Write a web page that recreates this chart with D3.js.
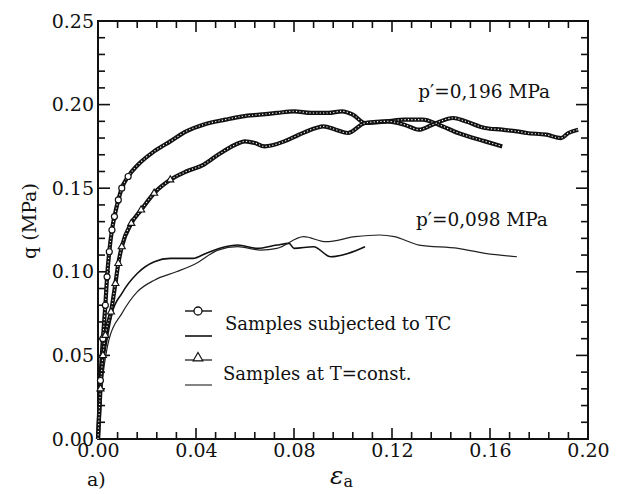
<!DOCTYPE html>
<html><head><meta charset="utf-8">
<script src="https://cdn.jsdelivr.net/npm/d3@7"></script>
<style>body{margin:0;background:#fff}svg{display:block}</style>
</head><body><svg id="c" width="628" height="494"></svg>
<script>
// ---- data (ε_a, q [MPa]) ----
const tc196 = [[0,0],[0.001,0.035],[0.002,0.06],[0.003,0.08],[0.0037,0.097],[0.0046,0.112],[0.0057,0.125],[0.0067,0.133],[0.0083,0.143],[0.0097,0.150],[0.0123,0.157],[0.0163,0.164],[0.0229,0.172],[0.0295,0.178],[0.036,0.184],[0.043,0.188],[0.052,0.191],[0.059,0.193],[0.066,0.194],[0.073,0.195],[0.080,0.196],[0.087,0.195],[0.094,0.195],[0.0996,0.196],[0.104,0.194],[0.109,0.189],[0.118,0.190],[0.125,0.191],[0.1325,0.191],[0.139,0.188],[0.147,0.183],[0.158,0.178],[0.165,0.175]];
const const196 = [[0,0],[0.001,0.03],[0.002,0.05],[0.003,0.062],[0.0053,0.076],[0.0071,0.093],[0.0083,0.105],[0.0097,0.115],[0.0136,0.129],[0.0176,0.137],[0.0229,0.147],[0.0295,0.155],[0.036,0.160],[0.043,0.164],[0.049,0.170],[0.056,0.176],[0.060,0.178],[0.064,0.177],[0.068,0.175],[0.076,0.178],[0.082,0.182],[0.089,0.186],[0.092,0.187],[0.097,0.185],[0.102,0.183],[0.109,0.189],[0.118,0.190],[0.125,0.188],[0.131,0.185],[0.1365,0.188],[0.145,0.192],[0.150,0.190],[0.158,0.186],[0.165,0.185],[0.171,0.184],[0.175,0.183],[0.183,0.182],[0.189,0.180],[0.192,0.183],[0.196,0.185]];
const tc098 = [[0,0],[0.001,0.03],[0.002,0.045],[0.0035,0.058],[0.0057,0.075],[0.0097,0.087],[0.016,0.099],[0.023,0.106],[0.0295,0.108],[0.0388,0.108],[0.044,0.111],[0.052,0.115],[0.057,0.116],[0.065,0.114],[0.073,0.116],[0.078,0.117],[0.080,0.114],[0.088,0.115],[0.095,0.109],[0.102,0.111],[0.109,0.115]];
const const098 = [[0,0],[0.001,0.025],[0.002,0.038],[0.0044,0.059],[0.0097,0.075],[0.016,0.088],[0.023,0.095],[0.032,0.100],[0.040,0.105],[0.049,0.113],[0.057,0.115],[0.0665,0.113],[0.073,0.114],[0.084,0.121],[0.093,0.118],[0.105,0.121],[0.115,0.122],[0.121,0.121],[0.131,0.116],[0.147,0.114],[0.158,0.111],[0.171,0.109]];
const xTicks = [0.00,0.04,0.08,0.12,0.16,0.20];
const yTicks = [0.00,0.05,0.10,0.15,0.20,0.25];
const legendLabels = ["Samples subjected to TC","Samples at T=const."];
const annotations = [{text:"p\u2032=0,196 MPa", x:0.1576, y:0.204},{text:"p\u2032=0,098 MPa", x:0.1567, y:0.1274}];

const svg = d3.select("#c");
const X0=98, X1=588, Y0=439, Y1=21;
const x = d3.scaleLinear().domain([0,0.2]).range([X0,X1]);
const y = d3.scaleLinear().domain([0,0.25]).range([Y0,Y1]);
const serif = "'DejaVu Serif', serif";

// frame ticks
const minorX = d3.range(0,0.2001,0.008), minorY = d3.range(0,0.2501,0.01);
const isMajX = v => Math.abs(v/0.04 - Math.round(v/0.04))<1e-6;
const isMajY = v => Math.abs(v/0.05 - Math.round(v/0.05))<1e-6;
const tg = svg.append("g").attr("stroke","#111").attr("stroke-width",1.6);
minorX.forEach(v=>{
  const L = isMajX(v)?11:7;
  tg.append("line").attr("x1",x(v)).attr("x2",x(v)).attr("y1",Y0).attr("y2",Y0-L);
  tg.append("line").attr("x1",x(v)).attr("x2",x(v)).attr("y1",Y1).attr("y2",Y1+L);
});
minorY.forEach(v=>{
  const L = isMajY(v)?12:7;
  tg.append("line").attr("y1",y(v)).attr("y2",y(v)).attr("x1",X0).attr("x2",X0+L);
  tg.append("line").attr("y1",y(v)).attr("y2",y(v)).attr("x1",X1).attr("x2",X1-L);
});
svg.append("rect").attr("x",X0).attr("y",Y1).attr("width",X1-X0).attr("height",Y0-Y1)
  .attr("fill","none").attr("stroke","#111").attr("stroke-width",2);

// axes labels via d3 axes (labels only)
const xAxis = d3.axisBottom(x).tickValues(xTicks).tickFormat(d3.format(".2f")).tickSize(0).tickPadding(5);
const gx = svg.append("g").attr("transform",`translate(0,${Y0})`).call(xAxis);
gx.select(".domain").remove();
gx.selectAll("text").attr("font-family",serif).attr("font-size",19).attr("fill","#111");
const yAxis = d3.axisLeft(y).tickValues(yTicks).tickFormat(d3.format(".2f")).tickSize(0).tickPadding(4);
const gy = svg.append("g").attr("transform",`translate(${X0},0)`).call(yAxis);
gy.select(".domain").remove();
gy.selectAll("text").attr("font-family",serif).attr("font-size",19).attr("fill","#111");

// titles
svg.append("text").attr("transform","translate(36,221) rotate(-90)").attr("text-anchor","middle")
  .attr("font-family",serif).attr("font-size",19).attr("fill","#111").text("q (MPa)");
const xt = svg.append("text").attr("x",330).attr("y",484).attr("font-family",serif).attr("fill","#111");
xt.append("tspan").attr("font-size",25).attr("font-style","italic").text("\u03b5");
xt.append("tspan").attr("font-size",16).attr("dy",3).text("a");
svg.append("text").attr("x",87).attr("y",486).attr("font-family",serif).attr("font-size",19).attr("fill","#111").text("a)");

// curves
const line = d3.line().x(d=>x(d[0])).y(d=>y(d[1])).curve(d3.curveMonotoneX);
const curves = svg.append("g");
curves.append("path").datum(tc098).attr("d",line).attr("fill","none").attr("stroke","#111").attr("stroke-width",1.6);
curves.append("path").datum(const098).attr("d",line).attr("fill","none").attr("stroke","#222").attr("stroke-width",1.2);
[tc196,const196].forEach(ds=>{
  curves.append("path").datum(ds).attr("d",line).attr("fill","none").attr("stroke","#111").attr("stroke-width",4.2);
  curves.append("path").datum(ds).attr("d",line).attr("fill","none").attr("stroke","#fff").attr("stroke-width",1.1).attr("stroke-dasharray","1.2 2.2");
});
const early = v => v[1] > 0.02 && v[1] < 0.16;
curves.selectAll("circle.m").data(tc196.filter(early)).join("circle").attr("class","m")
  .attr("cx",d=>x(d[0])).attr("cy",d=>y(d[1])).attr("r",3).attr("fill","#fff").attr("stroke","#111").attr("stroke-width",1.2);
const tri = d3.symbol().type(d3.symbolTriangle).size(22);
curves.selectAll("path.t").data(const196.filter(early)).join("path").attr("class","t")
  .attr("transform",d=>`translate(${x(d[0])},${y(d[1])})`).attr("d",tri).attr("fill","#fff").attr("stroke","#111").attr("stroke-width",1.1);

// annotations
annotations.forEach(a=>{
  svg.append("text").attr("x",x(a.x)).attr("y",y(a.y)).attr("text-anchor","middle")
    .attr("font-family",serif).attr("font-size",18.5).attr("fill","#111").text(a.text);
});

// legend
const lg = svg.append("g").attr("font-family",serif).attr("font-size",18).attr("fill","#111");
const LX1=185, LX2=212;
lg.append("line").attr("x1",LX1).attr("x2",LX2).attr("y1",311).attr("y2",311).attr("stroke","#111").attr("stroke-width",1.4);
lg.append("circle").attr("cx",198).attr("cy",311).attr("r",4).attr("fill","#fff").attr("stroke","#111").attr("stroke-width",1.3);
lg.append("line").attr("x1",LX1).attr("x2",LX2).attr("y1",336).attr("y2",336).attr("stroke","#111").attr("stroke-width",1.6);
lg.append("text").attr("x",225).attr("y",330).text(legendLabels[0]);
lg.append("line").attr("x1",LX1).attr("x2",LX2).attr("y1",360).attr("y2",360).attr("stroke","#111").attr("stroke-width",1.2);
lg.append("path").attr("transform","translate(198,358)").attr("d",d3.symbol().type(d3.symbolTriangle).size(40)).attr("fill","#fff").attr("stroke","#111").attr("stroke-width",1.2);
lg.append("line").attr("x1",LX1).attr("x2",LX2).attr("y1",385).attr("y2",385).attr("stroke","#333").attr("stroke-width",1.2);
lg.append("text").attr("x",223).attr("y",380).text(legendLabels[1]);
</script></body></html>
